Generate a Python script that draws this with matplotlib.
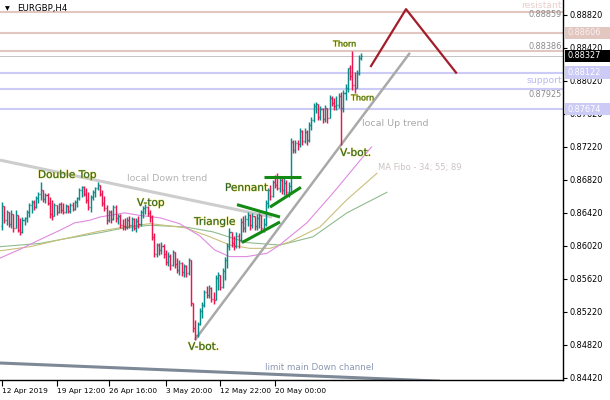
import matplotlib
matplotlib.use('Agg')
import matplotlib.pyplot as plt
import matplotlib.patheffects as pe
import matplotlib.transforms as mtransforms
from matplotlib.patches import Rectangle
import numpy as np

# ---------------- data (EURGBP H4 bars) ----------------
first_open = 0.8626
highs = [0.8655, 0.8646, 0.8646, 0.8642, 0.8646, 0.8639, 0.8646, 0.8639, 0.8636, 0.8637,
         0.8637, 0.8646, 0.8654, 0.8658, 0.8658, 0.8662, 0.8667, 0.8679, 0.8670, 0.8666,
         0.8666, 0.8661, 0.8658, 0.8654, 0.8652, 0.8654, 0.8655, 0.8654, 0.8653, 0.8652,
         0.8654, 0.8655, 0.8658, 0.8661, 0.8672, 0.8675, 0.8675, 0.8672, 0.8667, 0.8664,
         0.8670, 0.8673, 0.8679, 0.8676, 0.8670, 0.8662, 0.8652, 0.8646, 0.8646, 0.8652,
         0.8652, 0.8641, 0.8641, 0.8635,
         0.8636, 0.8637, 0.8638, 0.8637, 0.8636, 0.8636, 0.8638, 0.8646, 0.8650, 0.8653,
         0.8650, 0.8646, 0.8639, 0.8618, 0.8606, 0.8606, 0.8607, 0.8604, 0.8597, 0.8595,
         0.8592, 0.8597, 0.8595, 0.8587, 0.8585, 0.8582, 0.8580, 0.8579, 0.8587, 0.8585,
         0.8533, 0.8512, 0.8510, 0.8527, 0.8534, 0.8549, 0.8553, 0.8555, 0.8552, 0.8546,
         0.8567, 0.8570, 0.8565, 0.8575, 0.8589, 0.8606, 0.8624, 0.8618, 0.8614, 0.8619,
         0.8618, 0.8636, 0.8638, 0.8639, 0.8643, 0.8641, 0.8642, 0.8638, 0.8641, 0.8642,
         0.8638, 0.8636, 0.8658, 0.8672, 0.8676, 0.8682, 0.8688, 0.8690, 0.8687, 0.8684,
         0.8684, 0.8682, 0.8679, 0.8733, 0.8730, 0.8730, 0.8730, 0.8745, 0.8742, 0.8745,
         0.8742, 0.8752, 0.8758, 0.8775, 0.8776, 0.8774, 0.8771, 0.8769, 0.8773, 0.8767,
         0.8785, 0.8784, 0.8781, 0.8784, 0.8787, 0.8788, 0.8791, 0.8798, 0.8818, 0.8821,
         0.8838, 0.8813, 0.8815, 0.8833, 0.8836]
lows = [0.8621, 0.8630, 0.8627, 0.8625, 0.8624, 0.8619, 0.8624, 0.8619, 0.8615, 0.8618,
        0.8627, 0.8631, 0.8637, 0.8642, 0.8646, 0.8648, 0.8654, 0.8658, 0.8655, 0.8654,
        0.8652, 0.8636, 0.8633, 0.8638, 0.8639, 0.8642, 0.8642, 0.8641, 0.8642, 0.8642,
        0.8642, 0.8644, 0.8646, 0.8649, 0.8658, 0.8661, 0.8662, 0.8654, 0.8646, 0.8643,
        0.8658, 0.8661, 0.8670, 0.8662, 0.8650, 0.8644, 0.8629, 0.8631, 0.8630, 0.8633,
        0.8631, 0.8629, 0.8624, 0.8621,
        0.8621, 0.8622, 0.8624, 0.8620, 0.8621, 0.8619, 0.8624, 0.8626, 0.8636, 0.8641,
        0.8638, 0.8631, 0.8609, 0.8589, 0.8589, 0.8591, 0.8592, 0.8587, 0.8579, 0.8578,
        0.8573, 0.8578, 0.8575, 0.8569, 0.8567, 0.8565, 0.8564, 0.8564, 0.8567, 0.8529,
        0.8498, 0.8488, 0.8492, 0.8506, 0.8515, 0.8528, 0.8539, 0.8539, 0.8534, 0.8532,
        0.8536, 0.8549, 0.8549, 0.8551, 0.8561, 0.8575, 0.8597, 0.8601, 0.8597, 0.8599,
        0.8599, 0.8607, 0.8619, 0.8619, 0.8626, 0.8621, 0.8624, 0.8621, 0.8621, 0.8624,
        0.8619, 0.8619, 0.8626, 0.8648, 0.8658, 0.8661, 0.8672, 0.8670, 0.8667, 0.8665,
        0.8664, 0.8664, 0.8661, 0.8666, 0.8715, 0.8715, 0.8718, 0.8722, 0.8724, 0.8727,
        0.8724, 0.8728, 0.8742, 0.8752, 0.8763, 0.8755, 0.8755, 0.8751, 0.8752, 0.8751,
        0.8757, 0.8771, 0.8767, 0.8767, 0.8769, 0.8724, 0.8764, 0.8779, 0.8788, 0.8803,
        0.8791, 0.8787, 0.8793, 0.8809, 0.8827]
closes = [0.8650, 0.8633, 0.8643, 0.8629, 0.8641, 0.8624, 0.8639, 0.8621, 0.8619, 0.8633,
          0.8636, 0.8643, 0.8652, 0.8655, 0.8649, 0.8660, 0.8665, 0.8670, 0.8659, 0.8664,
          0.8654, 0.8641, 0.8638, 0.8652, 0.8643, 0.8653, 0.8646, 0.8643, 0.8650, 0.8644,
          0.8652, 0.8647, 0.8655, 0.8660, 0.8670, 0.8673, 0.8665, 0.8658, 0.8649, 0.8661,
          0.8667, 0.8672, 0.8676, 0.8665, 0.8654, 0.8648, 0.8633, 0.8643, 0.8635, 0.8649,
          0.8636, 0.8638, 0.8627, 0.8626,
          0.8625, 0.8633, 0.8627, 0.8635, 0.8624, 0.8632, 0.8629, 0.8643, 0.8648, 0.8649,
          0.8642, 0.8637, 0.8613, 0.8592, 0.8603, 0.8597, 0.8602, 0.8592, 0.8582, 0.8590,
          0.8579, 0.8595, 0.8580, 0.8573, 0.8581, 0.8570, 0.8578, 0.8569, 0.8585, 0.8533,
          0.8502, 0.8494, 0.8507, 0.8523, 0.8530, 0.8546, 0.8542, 0.8551, 0.8538, 0.8536,
          0.8563, 0.8567, 0.8552, 0.8572, 0.8585, 0.8602, 0.8619, 0.8606, 0.8602, 0.8614,
          0.8609, 0.8631, 0.8624, 0.8635, 0.8639, 0.8627, 0.8638, 0.8626, 0.8636, 0.8639,
          0.8624, 0.8629, 0.8654, 0.8670, 0.8662, 0.8679, 0.8676, 0.8672, 0.8682, 0.8670,
          0.8678, 0.8667, 0.8675, 0.8728, 0.8718, 0.8727, 0.8725, 0.8741, 0.8729, 0.8740,
          0.8730, 0.8749, 0.8755, 0.8771, 0.8774, 0.8758, 0.8768, 0.8756, 0.8769, 0.8757,
          0.8781, 0.8775, 0.8771, 0.8773, 0.8784, 0.8769, 0.8787, 0.8793, 0.8818, 0.8808,
          0.8797, 0.8793, 0.8812, 0.8830, 0.88327]

# moving averages (bar index, price)
ma34_x = [-1, 8, 17, 25.5, 32, 38.5, 43, 54, 60.5, 69.5, 78, 87, 93.5, 100, 107.5, 116.5, 122, 134, 145.5, 157.5, 162.5]
ma34_y = [0.8587, 0.8598, 0.8610, 0.8621, 0.8630, 0.8633, 0.8637, 0.8642, 0.8639, 0.8636, 0.8629, 0.8614,
          0.8597, 0.8589, 0.8589, 0.8593, 0.8603, 0.8630, 0.8666, 0.8706, 0.8722]
ma55_x = [-1, 12.3, 26.4, 43.1, 54.1, 65.1, 80.4, 91.4, 100.2, 109, 117.8, 126.6, 139.8, 151.6, 164.8]
ma55_y = [0.8596, 0.8601, 0.8610, 0.8620, 0.8625, 0.8629, 0.8624, 0.8613, 0.8603, 0.8599, 0.8599, 0.8607,
          0.8625, 0.8658, 0.8690]
ma89_x = [-1, 16.7, 26.4, 43.1, 54.1, 65.1, 80.4, 92.7, 107.7, 122.2, 136.7, 151.6, 169.2]
ma89_y = [0.8601, 0.8605, 0.8610, 0.8618, 0.8624, 0.8627, 0.8625, 0.8619, 0.8606, 0.8603, 0.8613, 0.8642, 0.8667]

# horizontal levels
resistance_levels = [0.88859, 0.88606, 0.88386]
support_levels = [0.88122, 0.87925, 0.87674]
current_price = 0.88327

# drawn objects (bar index, price)
down_trend = ([-0.9, 118.7], [0.8706, 0.8637])
up_trend = ([84.8, 179.3], [0.8488, 0.8836])
down_channel = ([-0.9, 192.5], [0.8460, 0.8438])
zigzag = ([162.2, 177.6, 199.6], [0.8820, 0.8889, 0.8812])
tri_upper = ([103.3, 122.2], [0.8652, 0.8637])
tri_lower = ([105.5, 122.2], [0.8606, 0.8631])
pen_top = ([115.2, 131.4], [0.8685, 0.8685])
pen_lower = ([117.8, 131.4], [0.8649, 0.8673])

xtick_pos = [0, 24, 47, 72, 96, 120]
xtick_labels = ['12 Apr 2019', '19 Apr 12:00', '26 Apr 16:00', '3 May 20:00', '12 May 22:00', '20 May 00:00']
ytick_vals = [0.84420, 0.84820, 0.85220, 0.85620, 0.86020, 0.86420, 0.86820, 0.87220, 0.87620,
              0.88020, 0.88420, 0.88820]

# ---------------- figure ----------------
plt.rcParams['font.family'] = ['DejaVu Sans']
fig = plt.figure(figsize=(6.1, 4.0), dpi=100)
ax = fig.add_axes([0, 0.05, 563 / 610, 0.95])
ax.set_xlim(-0.88, 246.6)
ax.set_ylim(0.84394, 0.89001)

UP = '#078c87'
DN = '#ea1650'

# levels
for lv in resistance_levels:
    ax.axhline(lv, color='#e2c6c0', lw=1.5, zorder=1)
for lv in support_levels:
    ax.axhline(lv, color='#cbcbf5', lw=1.5, zorder=1)
ax.axhline(current_price, color='#c4c4c4', lw=0.7, zorder=1)

# moving averages
ax.plot(ma89_x, ma89_y, color='#8fbc8f', lw=0.8, zorder=2)
ax.plot(ma55_x, ma55_y, color='#c8c07a', lw=0.8, zorder=2)
ax.plot(ma34_x, ma34_y, color='#e08ae0', lw=0.8, zorder=2)

# trend lines
ax.plot(*down_trend, color='#cdcdcd', lw=2.2, zorder=2, solid_capstyle='butt')
ax.plot(*up_trend, color='#a9a9a9', lw=1.8, zorder=2, solid_capstyle='butt')
ax.plot(*down_channel, color='#7d8996', lw=2.2, zorder=2, solid_capstyle='butt')
ax.plot(*zigzag, color='#a31d2b', lw=1.6, zorder=2)

# bars
n = len(closes)
xs = np.arange(n)
opens = [first_open] + closes[:-1]
for i in range(n):
    o, h, l, c = opens[i], highs[i], lows[i], closes[i]
    col = UP if c >= o else DN
    top = max(h, o, c)
    bot = min(l, o, c)
    ax.vlines(xs[i], bot, top, color=col, lw=1.05, zorder=3)
    ax.hlines(o, xs[i] - 0.45, xs[i], color=col, lw=1.0, zorder=3)
    ax.hlines(c, xs[i], xs[i] + 0.45, color=col, lw=1.0, zorder=3)

# pattern lines
for ln in (tri_upper, tri_lower, pen_top, pen_lower):
    ax.plot(*ln, color='#138a13', lw=2.2, zorder=4, solid_capstyle='butt')

# annotations
lab_style = dict(color='#2e6436', fontsize=7.6, va='center', ha='left', zorder=6,
                 path_effects=[pe.withStroke(linewidth=0.6, foreground='#ddd34c')])
ax.text(15.8, 0.8688, 'Double Top', **lab_style)
ax.text(59.3, 0.86541, 'V-top', **lab_style)
ax.text(84.4, 0.86311, 'Triangle', **lab_style)
ax.text(98.0, 0.86723, 'Pennant', **lab_style)
ax.text(81.8, 0.84796, 'V-bot.', **lab_style)
ax.text(148.6, 0.87147, 'V-bot.', **lab_style)
small_style = dict(lab_style)
small_style['fontsize'] = 5.8
ax.text(145.5, 0.88468, 'Thorn', **small_style)
ax.text(153.4, 0.87814, 'Thorn', **small_style)

ax.text(54.9, 0.86832, 'local Down trend', color='#b4b4b4', fontsize=6.8, va='center', ha='left', zorder=6)
ax.text(158.2, 0.87499, 'local Up trend', color='#a8a8a8', fontsize=6.8, va='center', ha='left', zorder=6)
ax.text(165.3, 0.86965, 'MA Fibo - 34; 55; 89', color='#cdc3c3', fontsize=6.0, va='center', ha='left', zorder=6)
ax.text(115.6, 0.84541, 'limit main Down channel', color='#8a98b2', fontsize=6.3, va='center', ha='left', zorder=6)

blend = mtransforms.blended_transform_factory(ax.transAxes, ax.transData)
ax.text(0.998, 0.8894, 'resistant', transform=blend, color='#e8cfcb', fontsize=6.7, ha='right', va='center', zorder=6)
ax.text(0.998, 0.8803, 'support', transform=blend, color='#b9b9f2', fontsize=6.7, ha='right', va='center', zorder=6)
for val, py in ((0.88859, 0.88820), (0.88386, 0.88432), (0.87925, 0.87850)):
    ax.text(0.998, py, '%.5f' % val, transform=blend, color='#8a8a8a', fontsize=5.9, ha='right', va='center', zorder=6)

# axes styling
for s in ('left', 'top'):
    ax.spines[s].set_visible(False)
for s in ('right', 'bottom'):
    ax.spines[s].set_color('black')
    ax.spines[s].set_linewidth(1.0)
ax.yaxis.tick_right()
ax.set_yticks(ytick_vals)
ax.set_yticklabels(['%.5f' % v for v in ytick_vals])
ax.tick_params(axis='y', direction='out', length=3, width=0.8, pad=2, labelsize=5.9, colors='black')
ax.set_xticks(xtick_pos)
ax.set_xticklabels(xtick_labels)
ax.tick_params(axis='x', direction='out', length=4, width=0.8, pad=1.5, labelsize=5.3, colors='black')
for lab in ax.get_xticklabels():
    lab.set_ha('left')

# price boxes on the right scale
bfig = mtransforms.blended_transform_factory(fig.transFigure, ax.transData)
half = 0.00073
boxes = [(0.88606, '#e2c6c0', '#faf0f0'), (current_price, '#000000', '#ffffff'),
         (0.88122, '#cbcbf5', '#ffffff'), (0.87674, '#cbcbf5', '#ffffff')]
for val, fc, tc in boxes:
    r = Rectangle((565 / 610, val - half), 45 / 610, 2 * half, transform=bfig, facecolor=fc,
                  edgecolor='none', clip_on=False, zorder=7)
    ax.add_patch(r)
    ax.text(568 / 610, val, '%.5f' % val, transform=bfig, color=tc, fontsize=5.9, ha='left',
            va='center', zorder=8, clip_on=False)

# title
fig.text(5 / 610, 1 - 9 / 400, '\u25bc', fontsize=4.5, color='black', va='center', ha='left')
fig.text(17 / 610, 1 - 9 / 400, 'EURGBP,H4', fontsize=6.2, color='black', va='center', ha='left')

fig.savefig('out.png', dpi=100)
